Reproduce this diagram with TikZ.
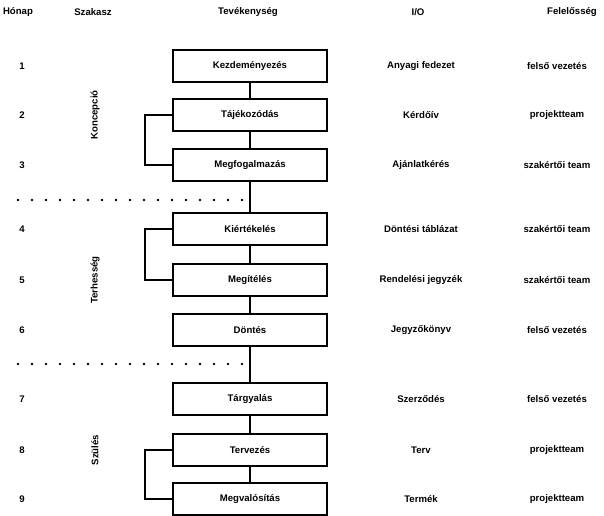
\documentclass[tikz,border=0pt]{standalone}
\usepackage{fontspec}
\setmainfont{Liberation Sans}
\begin{document}
\begin{tikzpicture}[x=0.75pt,y=-0.75pt,
  txt/.style={font=\fontsize{7.2}{8}\selectfont\bfseries, inner sep=0pt},
  hdr/.style={font=\fontsize{7.2}{8}\selectfont\bfseries, inner sep=0pt},
  stepbox/.style={draw, line width=1.3pt, minimum width=116pt, minimum height=23.5pt, inner sep=0pt, font=\fontsize{7.2}{8}\selectfont\bfseries},
  link/.style={line width=1.3pt},
  sep/.style={line width=2pt, line cap=round, dash pattern=on 0pt off 10.5pt}]
\useasboundingbox (0,0) rectangle (604,516);
% headers
\node[hdr] (h1) at (18,12) {Hónap};
\node[hdr] (h2) at (93,12) {Szakasz};
\node[hdr] (h3) at (248,12) {Tevékenység};
\node[hdr] (h4) at (418,12) {I/O};
\node[hdr] (h5) at (572,12) {Felelősség};
% boxes
\node[stepbox] (b1) at (250,66) {Kezdeményezés};
\node[stepbox] (b2) at (250,115) {Tájékozódás};
\node[stepbox] (b3) at (250,165) {Megfogalmazás};
\node[stepbox] (b4) at (250,229) {Kiértékelés};
\node[stepbox] (b5) at (250,280) {Megítélés};
\node[stepbox] (b6) at (250,330) {Döntés};
\node[stepbox] (b7) at (250,399) {Tárgyalás};
\node[stepbox] (b8) at (250,450) {Tervezés};
\node[stepbox] (b9) at (250,499) {Megvalósítás};
% month numbers
\foreach \n/\y in {1/66,2/115,3/165,4/229,5/280,6/330,7/399,8/450,9/499}
  \node[txt] (m\n) at (22,\y) {\n};
% phases
\node[txt, rotate=90] (p1) at (95,115) {Koncepció};
\node[txt, rotate=90] (p2) at (95,280) {Terhesség};
\node[txt, rotate=90] (p3) at (95,450) {Szülés};
% I/O
\node[txt] (io1) at (421,66) {Anyagi fedezet};
\node[txt] (io2) at (421,115) {Kérdőív};
\node[txt] (io3) at (421,165) {Ajánlatkérés};
\node[txt] (io4) at (421,229) {Döntési táblázat};
\node[txt] (io5) at (421,280) {Rendelési jegyzék};
\node[txt] (io6) at (421,330) {Jegyzőkönyv};
\node[txt] (io7) at (421,399) {Szerződés};
\node[txt] (io8) at (421,450) {Terv};
\node[txt] (io9) at (421,499) {Termék};
% responsibility
\node[txt] (r1) at (557,66) {felső vezetés};
\node[txt] (r2) at (557,115) {projektteam};
\node[txt] (r3) at (557,165) {szakértői team};
\node[txt] (r4) at (557,229) {szakértői team};
\node[txt] (r5) at (557,280) {szakértői team};
\node[txt] (r6) at (557,330) {felső vezetés};
\node[txt] (r7) at (557,399) {felső vezetés};
\node[txt] (r8) at (557,450) {projektteam};
\node[txt] (r9) at (557,499) {projektteam};
% vertical chain
\foreach \a/\b in {b1/b2,b2/b3,b3/b4,b4/b5,b5/b6,b6/b7,b7/b8,b8/b9}
  \draw[link] (\a.south) -- (\b.north);
% brackets
\draw[link] (b2.west) -- ++(-27,0) |- (b3.west);
\draw[link] (b4.west) -- ++(-27,0) |- (b5.west);
\draw[link] (b8.west) -- ++(-27,0) |- (b9.west);
% phase separators
\coordinate (d1a) at (18,200);
\coordinate (d1b) at (242,200);
\coordinate (d2a) at (18,364);
\coordinate (d2b) at (242,364);
\draw[sep] (d1a) -- (d1b);
\draw[sep] (d2a) -- (d2b);
\end{tikzpicture}
\end{document}
